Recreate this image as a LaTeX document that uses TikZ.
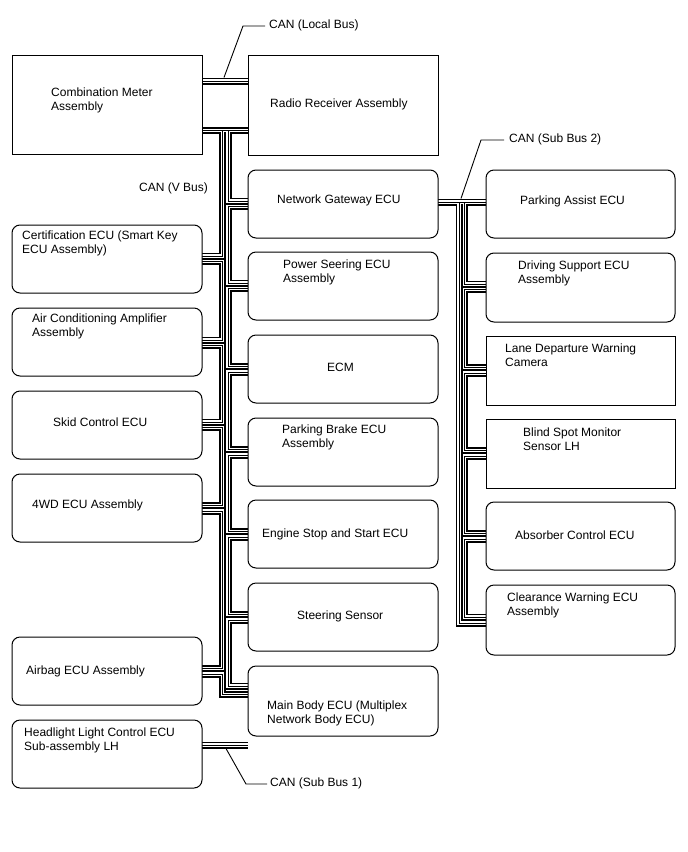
\documentclass[tikz,border=0pt]{standalone}
\usepackage{fontspec}
\setmainfont{Liberation Sans}
\usetikzlibrary{backgrounds}
\newcommand\canwires{%
 % local bus and V bus top
 \draw (meter.east |- 0,81) -- (radio.west |- 0,81);
 \draw (meter.east |- 0,130.5) -- (radio.west |- 0,130.5);
 % left trunk
 \draw (222.5,130.5) |- (cert.east |- 0,256);
 \draw (cert.east |- 0,261.5) -| (222.5,340) -- (ac.east |- 0,340);
 \draw (ac.east |- 0,345.5) -| (222.5,422) -- (skid.east |- 0,422);
 \draw (skid.east |- 0,427.5) -| (222.5,505.5) -- (fwd.east |- 0,505.5);
 \draw (fwd.east |- 0,511) -| (222.5,668.5) -- (airbag.east |- 0,668.5);
 \draw (airbag.east |- 0,674) -| (222.5,694.5) -- (mainbody.west |- 0,694.5);
 % right trunk
 \draw (228,130.5) |- (gw.west |- 0,201);
 \draw (gw.west |- 0,206.5) -| (228,283) -- (ps.west |- 0,283);
 \draw (ps.west |- 0,288.5) -| (228,366.5) -- (ecm.west |- 0,366.5);
 \draw (ecm.west |- 0,372) -| (228,449.5) -- (pb.west |- 0,449.5);
 \draw (pb.west |- 0,455) -| (228,531.5) -- (ess.west |- 0,531.5);
 \draw (ess.west |- 0,537) -| (228,614.5) -- (ss.west |- 0,614.5);
 \draw (ss.west |- 0,620) -| (228,686) -- (mainbody.west |- 0,686);
 % sub bus 1
 \draw (headlight.east |- 0,745) -- (mainbody.west |- 0,745);
 % sub bus 2
 \draw (gw.east |- 0,202) -- (pa.west |- 0,202);
 \draw (464.5,202) |- (ds.west |- 0,284);
 \draw (ds.west |- 0,289.5) -| (464.5,367.5) -- (ld.west |- 0,367.5);
 \draw (ld.west |- 0,373) -| (464.5,450.5) -- (bs.west |- 0,450.5);
 \draw (bs.west |- 0,456) -| (464.5,533.5) -- (ab.west |- 0,533.5);
 \draw (ab.west |- 0,539) -| (464.5,617) -- (cw.west |- 0,617);
 \draw (459,202) |- (cw.west |- 0,623);
}
\begin{document}
\begin{tikzpicture}[x=1pt,y=-1pt,
  box/.style={draw=black, line width=1pt, fill=white, rounded corners=8pt,
    minimum width=190pt, minimum height=68pt, anchor=north west, inner sep=0pt, outer sep=0pt},
  sqbox/.style={box, rounded corners=0pt},
  lbl/.style={anchor=west, inner sep=0pt, align=left, yshift=-1.5pt, font=\fontsize{12}{14}\selectfont},
  leader/.style={draw=black, line width=0.9pt}]
\path[use as bounding box] (0,0) rectangle (688,852);
% left column
\node[sqbox, minimum height=99pt] (meter) at (12,55) {};
\node[box] (cert) at (12,225) {};
\node[box] (ac) at (12,308) {};
\node[box] (skid) at (12,391) {};
\node[box] (fwd) at (12,474) {};
\node[box] (airbag) at (12,637) {};
\node[box] (headlight) at (12,720) {};
% middle column
\node[sqbox, minimum height=100pt] (radio) at (248,55) {};
\node[box] (gw) at (248,170) {};
\node[box] (ps) at (248,252) {};
\node[box] (ecm) at (248,335) {};
\node[box] (pb) at (248,418) {};
\node[box] (ess) at (248,500) {};
\node[box] (ss) at (248,583) {};
\node[box, minimum height=70pt] (mainbody) at (248,666) {};
% right column
\node[box, minimum width=189pt] (pa) at (486,170) {};
\node[box, minimum width=189pt, minimum height=69pt] (ds) at (486,253) {};
\node[sqbox, minimum width=189pt, minimum height=69pt] (ld) at (486,336) {};
\node[sqbox, minimum width=189pt, minimum height=69pt] (bs) at (486,419) {};
\node[box, minimum width=189pt] (ab) at (486,502) {};
\node[box, minimum width=189pt, minimum height=70pt] (cw) at (486,585) {};
% texts
\node[lbl] (tmeter) at (51,99) {Combination Meter\\Assembly};
\node[lbl] (tcert) at (22,242) {Certification ECU (Smart Key\\ECU Assembly)};
\node[lbl] (tac) at (32,325) {Air Conditioning Amplifier\\Assembly};
\node[lbl] (tskid) at (53,421) {Skid Control ECU};
\node[lbl] (tfwd) at (32,504) {4WD ECU Assembly};
\node[lbl] (tairbag) at (26,670) {Airbag ECU Assembly};
\node[lbl] (thead) at (24,739) {Headlight Light Control ECU\\Sub-assembly LH};
\node[lbl] (tradio) at (270,103) {Radio Receiver Assembly};
\node[lbl] (tgw) at (277,199) {Network Gateway ECU};
\node[lbl] (tps) at (283,271) {Power Seering ECU\\Assembly};
\node[lbl] (tecm) at (327,366) {ECM};
\node[lbl] (tpb) at (282,436) {Parking Brake ECU\\Assembly};
\node[lbl] (tess) at (262,533) {Engine Stop and Start ECU};
\node[lbl] (tss) at (297,615) {Steering Sensor};
\node[lbl] (tmb) at (267,712) {Main Body ECU (Multiplex\\Network Body ECU)};
\node[lbl] (tpa) at (520,200) {Parking Assist ECU};
\node[lbl] (tds) at (518,272) {Driving Support ECU\\Assembly};
\node[lbl] (tld) at (505,354) {Lane Departure Warning\\Camera};
\node[lbl] (tbs) at (523,438) {Blind Spot Monitor\\Sensor LH};
\node[lbl] (tab) at (515,534) {Absorber Control ECU};
\node[lbl] (tcw) at (507,604) {Clearance Warning ECU\\Assembly};
% bus labels
\node[lbl] (canlocal) at (269,24) {CAN (Local Bus)};
\node[lbl] (canv) at (139,187) {CAN (V Bus)};
\node[lbl] (cansub2) at (509,138) {CAN (Sub Bus 2)};
\node[lbl] (cansub1) at (270,782) {CAN (Sub Bus 1)};
% leaders
\coordinate (pLocal) at (224,77.5);
\coordinate (pSub2) at (461,198.5);
\coordinate (pSub1) at (226,748.5);
\draw[leader] (pLocal) -- (243,26) -- ([xshift=-4pt]canlocal.west |- 0,26);
\draw[leader] (pSub2) -- (481,140) -- ([xshift=-5pt]cansub2.west |- 0,140);
\draw[leader] (pSub1) -- (246,784) -- ([xshift=-3pt]cansub1.west |- 0,784);
% wires
\begin{scope}[on background layer]
 \fill[white] (0,0) rectangle (688,852);
 \begin{scope}[line width=7pt, black] \canwires \end{scope}
 \begin{scope}[line width=3.4pt, white] \canwires \end{scope}
 \begin{scope}[line width=1pt, black] \canwires \end{scope}
\end{scope}
\end{tikzpicture}
\end{document}
